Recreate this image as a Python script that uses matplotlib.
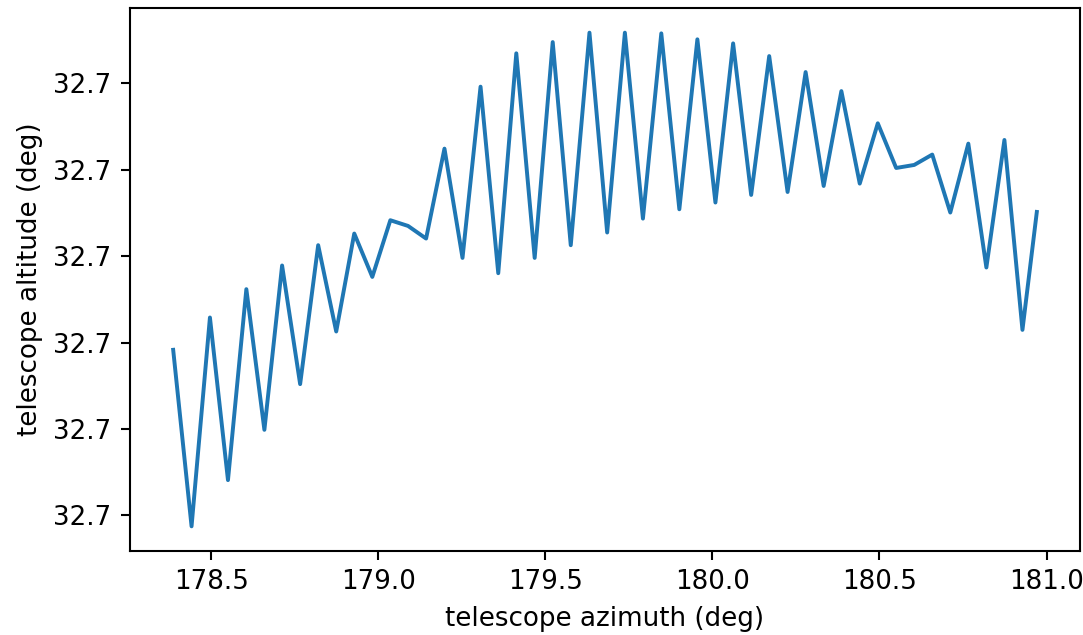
import matplotlib
matplotlib.use("Agg")
import matplotlib.pyplot as plt
from matplotlib.ticker import FormatStrFormatter

azimuth = [178.386, 178.441, 178.496, 178.550, 178.605, 178.659, 178.712, 178.766,
           178.820, 178.874, 178.928, 178.982, 179.036, 179.089, 179.143, 179.198,
           179.252, 179.306, 179.359, 179.413, 179.468, 179.522, 179.576, 179.632,
           179.685, 179.738, 179.792, 179.847, 179.901, 179.955, 180.009, 180.062,
           180.116, 180.170, 180.225, 180.279, 180.333, 180.386, 180.441, 180.495,
           180.550, 180.604, 180.658, 180.712, 180.766, 180.820, 180.874, 180.928,
           180.971]

altitude = [32.70001916, 32.69999873, 32.70002290, 32.70000408, 32.70002618, 32.70000990,
            32.70002892, 32.70001519, 32.70003127, 32.70002128, 32.70003262, 32.70002760,
            32.70003416, 32.70003350, 32.70003204, 32.70004245, 32.70002980, 32.70004962,
            32.70002803, 32.70005348, 32.70002980, 32.70005478, 32.70003127, 32.70005587,
            32.70003274, 32.70005587, 32.70003435, 32.70005579, 32.70003543, 32.70005510,
            32.70003621, 32.70005463, 32.70003709, 32.70005316, 32.70003743, 32.70005131,
            32.70003813, 32.70004911, 32.70003840, 32.70004538, 32.70004021, 32.70004056,
            32.70004176, 32.70003505, 32.70004303, 32.70002869, 32.70004345, 32.70002147,
            32.70003512]

DPI = 188
fig = plt.figure(figsize=(1083 / DPI, 635 / DPI), dpi=DPI)
ax = fig.add_axes([130 / 1083, 1 - 551 / 635, 950 / 1083, 543 / 635])
ax.plot(azimuth, altitude, color="#1f77b4", linewidth=1.5)
ax.yaxis.set_major_formatter(FormatStrFormatter("%.1f"))
ax.set_xlabel("telescope azimuth (deg)")
ax.set_ylabel("telescope altitude (deg)")
fig.savefig("out.png", dpi=DPI)
